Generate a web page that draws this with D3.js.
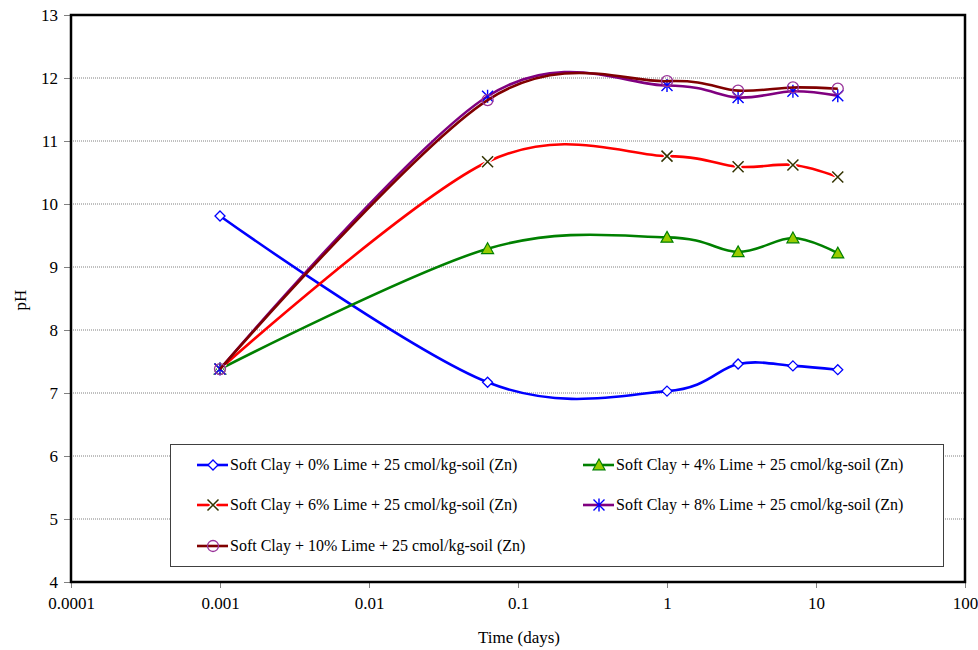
<!DOCTYPE html>
<html>
<head>
<meta charset="utf-8">
<script src="https://cdn.jsdelivr.net/npm/d3@7"></script>
<style>
  html, body { margin: 0; padding: 0; background: #fff; }
  svg text { font-family: "Liberation Serif", "Times New Roman", Times, "DejaVu Serif", serif; }
</style>
</head>
<body>
<svg id="chart" width="978" height="650"></svg>
<script>
// Sampling times (days) and pH readings per lime content
const times = [0.001, 0.0625, 1, 3, 7, 14];
const lime0  = [9.81, 7.17, 7.03, 7.46, 7.43, 7.37];
const lime4  = [7.38, 9.29, 9.47, 9.24, 9.46, 9.22];
const lime6  = [7.38, 10.67, 10.76, 10.59, 10.62, 10.43];
const lime8  = [7.38, 11.71, 11.88, 11.69, 11.79, 11.72];
const lime10 = [7.38, 11.65, 11.95, 11.80, 11.85, 11.83];
const seriesNames = [
  "Soft Clay + 0% Lime + 25 cmol/kg-soil (Zn)",
  "Soft Clay + 4% Lime + 25 cmol/kg-soil (Zn)",
  "Soft Clay + 6% Lime + 25 cmol/kg-soil (Zn)",
  "Soft Clay + 8% Lime + 25 cmol/kg-soil (Zn)",
  "Soft Clay + 10% Lime + 25 cmol/kg-soil (Zn)"
];
const xTicks = [0.0001, 0.001, 0.01, 0.1, 1, 10, 100];
const xTickLabels = ["0.0001", "0.001", "0.01", "0.1", "1", "10", "100"];
const yTicks = [4, 5, 6, 7, 8, 9, 10, 11, 12, 13];

const FONT = "'Liberation Serif', 'Times New Roman', Times, 'DejaVu Serif', serif";

const styles = [
  { line: "#0000ff", marker: "diamond", mStroke: "#0000ff", mFill: "#ffffff" },
  { line: "#008000", marker: "triangle", mStroke: "#008000", mFill: "#99cc00" },
  { line: "#ff0000", marker: "x", mStroke: "#333300", mFill: "none" },
  { line: "#800080", marker: "star", mStroke: "#0000ff", mFill: "none" },
  { line: "#800000", marker: "circle", mStroke: "#993399", mFill: "none" }
];
const allValues = [lime0, lime4, lime6, lime8, lime10];
const series = seriesNames.map((name, i) => ({
  name, style: styles[i],
  points: times.map((t, j) => ({ t, v: allValues[i][j] }))
}));

const svg = d3.select("#chart").attr("font-family", FONT);
const plotLeft = 71, plotRight = 965, plotTop = 15, plotBottom = 582;

const x = d3.scaleLog().domain([0.0001, 100]).range([plotLeft, plotRight]);
const y = d3.scaleLinear().domain([4, 13]).range([plotBottom, plotTop]);

// horizontal dotted grid
svg.append("g").selectAll("line").data(yTicks.filter(v => v > 4 && v < 13)).join("line")
  .attr("x1", plotLeft).attr("x2", plotRight)
  .attr("y1", d => y(d)).attr("y2", d => y(d))
  .attr("stroke", "#808080").attr("stroke-width", 1)
  .attr("stroke-dasharray", "1,1");

// axes
const yAxis = d3.axisLeft(y).tickValues(yTicks).tickSize(7).tickPadding(6);
const gy = svg.append("g").attr("transform", `translate(${plotLeft},0)`).call(yAxis)
  .attr("font-family", FONT);
gy.select(".domain").remove();
gy.selectAll(".tick line").attr("stroke", "#808080");
gy.selectAll(".tick text").attr("font-size", 17).attr("fill", "#000");

const xAxis = d3.axisBottom(x).tickValues(xTicks)
  .tickFormat((d, i) => xTickLabels[i]).tickSize(6).tickPadding(9);
const gx = svg.append("g").attr("transform", `translate(0,${plotBottom})`).call(xAxis)
  .attr("font-family", FONT);
gx.select(".domain").remove();
gx.selectAll(".tick line").attr("stroke", "#808080");
gx.selectAll(".tick text").attr("font-size", 17).attr("fill", "#000");

// plot frame
svg.append("rect")
  .attr("x", plotLeft).attr("y", plotTop)
  .attr("width", plotRight - plotLeft).attr("height", plotBottom - plotTop)
  .attr("fill", "none").attr("stroke", "#000").attr("stroke-width", 2.5);

// axis titles
svg.append("text").attr("x", 519).attr("y", 643)
  .attr("text-anchor", "middle").attr("font-size", 17).text("Time (days)");
svg.append("text")
  .attr("transform", `translate(26,${300}) rotate(-90)`)
  .attr("text-anchor", "middle").attr("font-size", 17).text("pH");

// marker drawing
function drawMarker(g, st, cx, cy) {
  const m = st.marker;
  if (m === "diamond") {
    const s = 5;
    g.append("path").attr("d", `M${cx},${cy - s}L${cx + s},${cy}L${cx},${cy + s}L${cx - s},${cy}Z`)
      .attr("fill", st.mFill).attr("stroke", st.mStroke).attr("stroke-width", 1.3);
  } else if (m === "triangle") {
    const s = 6;
    g.append("path").attr("d", `M${cx},${cy - s}L${cx + s},${cy + s * 0.8}L${cx - s},${cy + s * 0.8}Z`)
      .attr("fill", st.mFill).attr("stroke", st.mStroke).attr("stroke-width", 1.2);
  } else if (m === "x") {
    const s = 5.5;
    g.append("path").attr("d", `M${cx - s},${cy - s}L${cx + s},${cy + s}M${cx - s},${cy + s}L${cx + s},${cy - s}`)
      .attr("stroke", "#fff").attr("stroke-width", 4);
    g.append("path").attr("d", `M${cx - s},${cy - s}L${cx + s},${cy + s}M${cx - s},${cy + s}L${cx + s},${cy - s}`)
      .attr("stroke", st.mStroke).attr("stroke-width", 1.5);
  } else if (m === "star") {
    const s = 5.5;
    g.append("path").attr("d",
      `M${cx - s},${cy - s}L${cx + s},${cy + s}M${cx - s},${cy + s}L${cx + s},${cy - s}M${cx},${cy - s - 1}L${cx},${cy + s + 1}`)
      .attr("stroke", st.mStroke).attr("stroke-width", 1.4);
  } else if (m === "circle") {
    g.append("circle").attr("cx", cx).attr("cy", cy).attr("r", 5.5)
      .attr("fill", st.mFill).attr("stroke", st.mStroke).attr("stroke-width", 1.3);
  }
}

// smoothed series lines with markers
const line = d3.line()
  .x(d => x(d.t)).y(d => y(d.v))
  .curve(d3.curveCardinal.tension(0));

series.forEach(s => {
  const g = svg.append("g");
  g.append("path").datum(s.points)
    .attr("d", line).attr("fill", "none")
    .attr("stroke", s.style.line).attr("stroke-width", 2.6);
  s.points.forEach(p => drawMarker(g, s.style, x(p.t), y(p.v)));
});

// legend
const lg = svg.append("g");
lg.append("rect").attr("x", 170.5).attr("y", 444.5).attr("width", 773).attr("height", 122)
  .attr("fill", "#fff").attr("stroke", "#404040").attr("stroke-width", 1);
const legendPos = [
  [197, 465], [583, 465], [197, 505], [583, 505], [197, 546]
];
series.forEach((s, i) => {
  const [lx, ly] = legendPos[i];
  lg.append("line").attr("x1", lx).attr("x2", lx + 31).attr("y1", ly).attr("y2", ly)
    .attr("stroke", s.style.line).attr("stroke-width", 2.6);
  drawMarker(lg, s.style, lx + 16, ly);
  lg.append("text").attr("x", lx + 33).attr("y", ly + 5)
    .attr("font-size", 16).text(s.name);
});
</script>
</body>
</html>
